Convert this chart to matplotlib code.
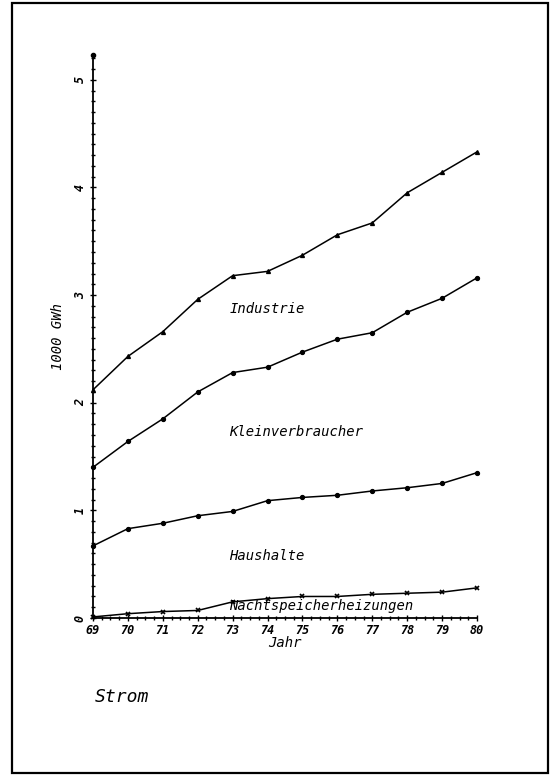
import matplotlib
matplotlib.use("Agg")
import matplotlib.pyplot as plt
from matplotlib.patches import Rectangle
from matplotlib.ticker import MultipleLocator

FONT = dict(family="DejaVu Sans Mono", style="oblique")

jahre = [69, 70, 71, 72, 73, 74, 75, 76, 77, 78, 79, 80]
industrie = [2.12, 2.43, 2.66, 2.96, 3.18, 3.22, 3.37, 3.56, 3.67, 3.95, 4.14, 4.33]
kleinverbraucher = [1.40, 1.64, 1.85, 2.10, 2.28, 2.33, 2.47, 2.59, 2.65, 2.84, 2.97, 3.16]
haushalte = [0.67, 0.83, 0.88, 0.95, 0.99, 1.09, 1.12, 1.14, 1.18, 1.21, 1.25, 1.35]
nachtspeicher = [0.01, 0.04, 0.06, 0.07, 0.15, 0.18, 0.20, 0.20, 0.22, 0.23, 0.24, 0.28]

fig = plt.figure(figsize=(5.51, 7.76), dpi=100)
fig.patches.append(Rectangle((12 / 551, 3 / 776), 536 / 551, 770 / 776, transform=fig.transFigure,
                             fill=False, edgecolor="black", linewidth=1.6))
ax = fig.add_axes([93 / 551, 158 / 776, 384 / 551, 563 / 776])

kw = dict(color="black", linewidth=1.1, markersize=2.8, clip_on=False)
ax.plot(jahre, industrie, marker="^", **kw)
ax.plot(jahre, kleinverbraucher, marker="o", **kw)
ax.plot(jahre, haushalte, marker="o", **kw)
ax.plot(jahre, nachtspeicher, marker="x", markeredgewidth=1.2, **kw)

ax.set_xlim(69, 80)
ax.set_ylim(0, 5.23)
for s in ["top", "right"]:
    ax.spines[s].set_visible(False)
for s in ["left", "bottom"]:
    ax.spines[s].set_linewidth(1.3)
ax.plot([69], [5.23], marker="o", color="black", markersize=3, clip_on=False)

ax.xaxis.set_major_locator(MultipleLocator(1))
ax.xaxis.set_minor_locator(MultipleLocator(0.25))
ax.yaxis.set_major_locator(MultipleLocator(1))
ax.yaxis.set_minor_locator(MultipleLocator(0.1))
ax.tick_params(which="both", direction="inout", width=1, color="black")
ax.tick_params(which="major", length=5)
ax.tick_params(which="minor", length=3)
ax.set_xticks(jahre)
ax.set_xticklabels([str(j) for j in jahre], fontsize=8.5, weight="bold", **FONT)
ax.set_yticks([0, 1, 2, 3, 4, 5])
ax.set_yticklabels(["0", "1", "2", "3", "4", "5"], fontsize=8.5, weight="bold", rotation=90,
                   va="center", **FONT)
ax.tick_params(axis="x", pad=2)
ax.tick_params(axis="y", pad=2)

ax.set_xlabel("Jahr", fontsize=10, labelpad=-1, **FONT)
ax.set_ylabel("1000 GWh", fontsize=10, labelpad=6, **FONT)

ax.text(72.9, 2.87, "Industrie", fontsize=10, va="center", **FONT)
ax.text(72.9, 1.73, "Kleinverbraucher", fontsize=10, va="center", **FONT)
ax.text(72.9, 0.58, "Haushalte", fontsize=10, va="center", **FONT)
ax.text(72.9, 0.11, "Nachtspeicherheizungen", fontsize=10, va="center", **FONT)

fig.text(95 / 551, 1 - 697 / 776, "Strom", fontsize=13, va="center", **FONT)

fig.savefig("out.png", dpi=100)
